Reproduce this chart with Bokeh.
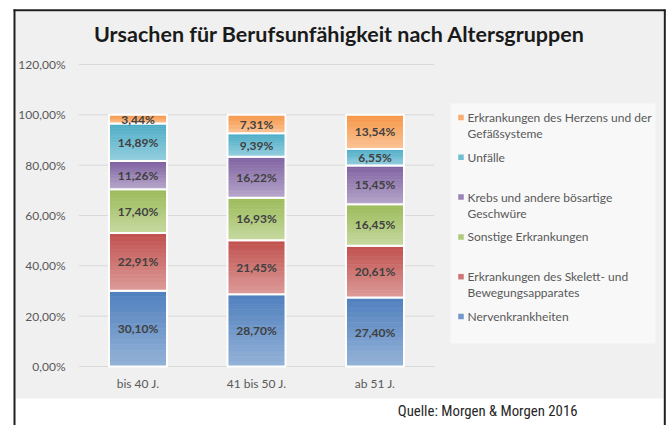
from bokeh.plotting import figure
from bokeh.models import ColumnDataSource, Range1d
from bokeh.core.properties import value
from bokeh.embed import file_html
from bokeh.resources import INLINE

# ---- data ----
categories = ["bis 40 J.", "41 bis 50 J.", "ab 51 J."]
series_names = [
    "Nervenkrankheiten",
    "Erkrankungen des Skelett- und\nBewegungsapparates",
    "Sonstige Erkrankungen",
    "Krebs und andere bösartige\nGeschwüre",
    "Unfälle",
    "Erkrankungen des Herzens und der\nGefäßsysteme",
]
nerven = [30.10, 28.70, 27.40]
skelett = [22.91, 21.45, 20.61]
sonstige = [17.40, 16.93, 16.45]
krebs = [11.26, 16.22, 15.45]
unfaelle = [14.89, 9.39, 6.55]
herz = [3.44, 7.31, 13.54]
series_values = [nerven, skelett, sonstige, krebs, unfaelle, herz]
y_ticks = [0, 20, 40, 60, 80, 100, 120]
y_tick_labels = ["0,00%", "20,00%", "40,00%", "60,00%", "80,00%", "100,00%", "120,00%"]
title_text = "Ursachen für Berufsunfähigkeit nach Altersgruppen"
source_text = "Quelle: Morgen & Morgen 2016"

# gradient colours (top / bottom)
top_colors = ["#4f7fbe", "#c0504d", "#9bbb59", "#7f62a1", "#4bacc6", "#f79646"]
bottom_colors = ["#95b3d8", "#dc9b99", "#c7d9a1", "#b6a6ca", "#96cfdf", "#fbc497"]

FONT = "Lato"
GRAY_BG = "#f0f0f0"

# ---- page geometry (pixels of the 667x425 page) ----
W, H = 667, 425
PX0, PY0 = 0, 0
X_C0, X_UNIT = 137.5, 118.5            # page x of first category centre, px per category
Y_ZERO, Y_UNIT = 366.0, 302.0 / 120.0  # page y of 0 %, px per percent

def dx(px):
    return (px - X_C0) / X_UNIT

def dy(py):
    return (Y_ZERO - py) / Y_UNIT

def hex2rgb(h):
    h = h.lstrip("#")
    return [int(h[i:i + 2], 16) for i in (0, 2, 4)]

def mix(c1, c2, t):
    a, b = hex2rgb(c1), hex2rgb(c2)
    return "#%02x%02x%02x" % tuple(int(round(a[i] + (b[i] - a[i]) * t)) for i in range(3))

p = figure(width=W, height=H,
           x_range=Range1d(dx(PX0), dx(PX0 + W)), y_range=Range1d(dy(PY0 + H), dy(PY0)),
           x_axis_location=None, y_axis_location=None,
           output_backend="svg", toolbar_location=None, tools="",
           min_border=0)
p.background_fill_color = "white"
p.border_fill_color = "white"
p.outline_line_color = None
p.grid.visible = False

# chart area background and frame lines
p.quad(left=[dx(15)], right=[dx(663)], top=[dy(11)], bottom=[dy(398)],
       fill_color=GRAY_BG, line_color=None)
p.segment(x0=[dx(14), dx(13), dx(664.3)], y0=[dy(9), dy(9.8), dy(9)],
          x1=[dx(14), dx(665), dx(664.3)], y1=[dy(430), dy(9.8), dy(430)],
          line_color="#1f1f1f", line_width=2)

xi = list(range(len(categories)))

# gridlines at the y ticks
p.segment(x0=[xi[0] - 0.5] * len(y_ticks), x1=[xi[-1] + 0.5] * len(y_ticks),
          y0=y_ticks, y1=y_ticks, line_color="#d9d9d9", line_width=1)

# y tick labels
p.text(x=[dx(65)] * len(y_ticks), y=y_ticks, text=y_tick_labels,
       text_font=value(FONT), text_font_size="12px", text_color="#595959",
       text_align="right", text_baseline="middle")
# x tick labels
p.text(x=xi, y=[0] * len(xi), y_offset=17, text=categories,
       text_font=value(FONT), text_font_size="12px", text_color="#595959",
       text_align="center", text_baseline="middle")

BAR_W = 0.49
N = 14
cum = [0.0] * len(categories)
for si, (name, vals) in enumerate(zip(series_names, series_values)):
    xs, bots, tops, cols = [], [], [], []
    for j in xi:
        b = cum[j]
        v = vals[j]
        for k in range(N):
            xs.append(j)
            bots.append(b + v * k / N)
            tops.append(b + v * (k + 1) / N)
            cols.append(mix(bottom_colors[si], top_colors[si], (k + 0.5) / N))
    src = ColumnDataSource(dict(x=xs, bottom=bots, top=tops, color=cols))
    p.vbar(x="x", bottom="bottom", top="top", width=BAR_W, source=src,
           fill_color="color", line_color="color", line_width=0.6)
    osrc = ColumnDataSource(dict(x=xi, bottom=list(cum),
                                 top=[cum[j] + vals[j] for j in xi]))
    p.vbar(x="x", bottom="bottom", top="top", width=BAR_W, source=osrc,
           fill_color=None, line_color="white", line_width=2)
    lsrc = ColumnDataSource(dict(x=xi,
                                 y=[cum[j] + vals[j] / 2 for j in xi],
                                 t=[("%.2f%%" % v).replace(".", ",") for v in vals]))
    p.text(x="x", y="y", text="t", source=lsrc, text_font=value(FONT),
           text_font_style="bold", text_font_size="12px", text_color="#404040",
           text_align="center", text_baseline="middle")
    cum = [cum[j] + vals[j] for j in xi]

# title
p.text(x=[dx(339)], y=[dy(33)], text=[title_text], text_font=value(FONT),
       text_font_style="bold", text_font_size="21.5px", text_color="#1a1a1a",
       text_align="center", text_baseline="middle")
# source
p.text(x=[dx(577)], y=[dy(410)], text=[source_text],
       text_font=value("'Roboto Condensed', 'Liberation Sans Narrow', 'Arial Narrow', sans-serif"),
       text_font_size="14.8px",
       text_color="#262626", text_align="right", text_baseline="middle")

# legend (drawn by hand: top entry = last series)
p.quad(left=[dx(450)], right=[dx(655)], top=[dy(103)], bottom=[dy(343)],
       fill_color="#f8f8f8", line_color=None)
LEG_Y0, LEG_STEP, LINE_H = 117.0, 39.8, 16.0
mk_x, mk_y, mk_c = [], [], []
tx, ty, tt = [], [], []
for pos, si in enumerate(reversed(range(len(series_names)))):
    yline = LEG_Y0 + LEG_STEP * pos
    mk_x.append(dx(460.5))
    mk_y.append(dy(yline))
    mk_c.append(mix(bottom_colors[si], top_colors[si], 0.5))
    for li, line in enumerate(series_names[si].split("\n")):
        tx.append(dx(467))
        ty.append(dy(yline + LINE_H * li))
        tt.append(line)
p.scatter(x=mk_x, y=mk_y, marker="square", size=5.5, fill_color=mk_c, line_color=None)
p.text(x=tx, y=ty, text=tt, text_font=value(FONT), text_font_size="12px",
       text_color="#595959", text_align="left", text_baseline="middle")

open("out.html", "w").write(file_html(p, INLINE))
